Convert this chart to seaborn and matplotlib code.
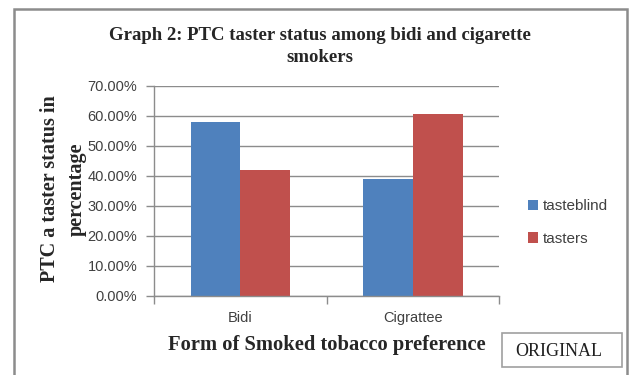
import matplotlib
matplotlib.use("Agg")
import matplotlib.pyplot as plt
import matplotlib.patches as mpatches
from matplotlib.ticker import FuncFormatter, FixedLocator
import seaborn as sns
import pandas as pd

categories = ["Bidi", "Cigrattee"]
series_names = ["tasteblind", "tasters"]
tasteblind = [58.0, 39.0]
tasters = [42.0, 60.5]
colors = ["#4F81BD", "#C0504D"]

df = pd.DataFrame({
    "category": categories * 2,
    "status": [series_names[0]] * 2 + [series_names[1]] * 2,
    "value": tasteblind + tasters,
})

sns.set_theme(style="white")
plt.rcParams["font.family"] = ["Liberation Sans", "DejaVu Sans"]

W, H = 629, 375
fig = plt.figure(figsize=(W / 100, H / 100), dpi=100)
ax = fig.add_axes([154 / W, 1 - 295.5 / H, (499.5 - 154) / W, (295.5 - 85.7) / H])

sns.barplot(data=df, x="category", y="value", hue="status", order=categories,
            hue_order=series_names, palette=colors, width=0.575, ax=ax,
            saturation=1, errorbar=None, legend=False, linewidth=0)

ax.set_ylim(0, 70)
ax.set_xlim(-0.5, 1.5)
ax.yaxis.set_major_locator(FixedLocator([0, 10, 20, 30, 40, 50, 60, 70]))
ax.yaxis.set_major_formatter(FuncFormatter(lambda v, p: f"{v:.2f}%"))
ax.grid(axis="y", color="#8c8c8c", linewidth=1.0)
ax.set_axisbelow(True)
for s in ["top", "right"]:
    ax.spines[s].set_visible(False)
for s in ["left", "bottom"]:
    ax.spines[s].set_color("#8c8c8c")
    ax.spines[s].set_linewidth(1.0)

ax.tick_params(axis="y", which="major", left=True, length=6, width=1, color="#8c8c8c",
               labelsize=10.5, labelcolor="#404040", pad=6)
ax.tick_params(axis="x", which="major", bottom=False, labelsize=10.5, labelcolor="#404040", pad=5)
ax.xaxis.set_minor_locator(FixedLocator([-0.5, 0.5, 1.5]))
ax.tick_params(axis="x", which="minor", bottom=True, length=6, width=1, color="#8c8c8c")

ax.set_xlabel("")
ax.set_ylabel("")

serif = ["Liberation Serif", "DejaVu Serif"]
fig.text(320 / W, 1 - 36 / H, "Graph 2: PTC taster status among bidi and cigarette",
         ha="center", va="center", fontsize=13.5, fontweight="bold", family=serif)
fig.text(320 / W, 1 - 58 / H, "smokers", ha="center", va="center", fontsize=13.5,
         fontweight="bold", family=serif)
fig.text(327 / W, 1 - 345 / H, "Form of Smoked tobacco preference", ha="center",
         va="center", fontsize=14.8, fontweight="bold", family=serif)
fig.text(63 / W, 1 - 189 / H, "PTC a taster status in\npercentage", ha="center",
         va="center", rotation=90, fontsize=14.5, fontweight="bold", family=serif,
         linespacing=1.45, multialignment="center")

handles = [mpatches.Patch(facecolor=c, edgecolor="none", label=n)
           for c, n in zip(colors, series_names)]
leg = fig.legend(handles=handles, loc="center left",
                 bbox_to_anchor=(520 / W, 1 - 222.5 / H), frameon=False,
                 fontsize=11, handlelength=0.7, handleheight=0.7,
                 handletextpad=0.3, labelspacing=1.2, borderpad=0)
for t in leg.get_texts():
    t.set_color("#404040")

fig.patches.append(mpatches.Rectangle((14 / W, -0.02), (626.5 - 14) / W, 1 - 8.7 / H + 0.02,
                                      transform=fig.transFigure, fill=False,
                                      edgecolor="#8c8c8c", linewidth=1.8))
fig.patches.append(mpatches.Rectangle((502 / W, 1 - 367 / H), (622 - 502) / W, 34 / H,
                                      transform=fig.transFigure, facecolor="white",
                                      edgecolor="#a0a0a0", linewidth=1.2, zorder=5))
fig.text(559 / W, 1 - 351 / H, "ORIGINAL", ha="center", va="center", fontsize=13,
         family=serif, color="#202020", zorder=6)

fig.savefig("out.png", dpi=100)
